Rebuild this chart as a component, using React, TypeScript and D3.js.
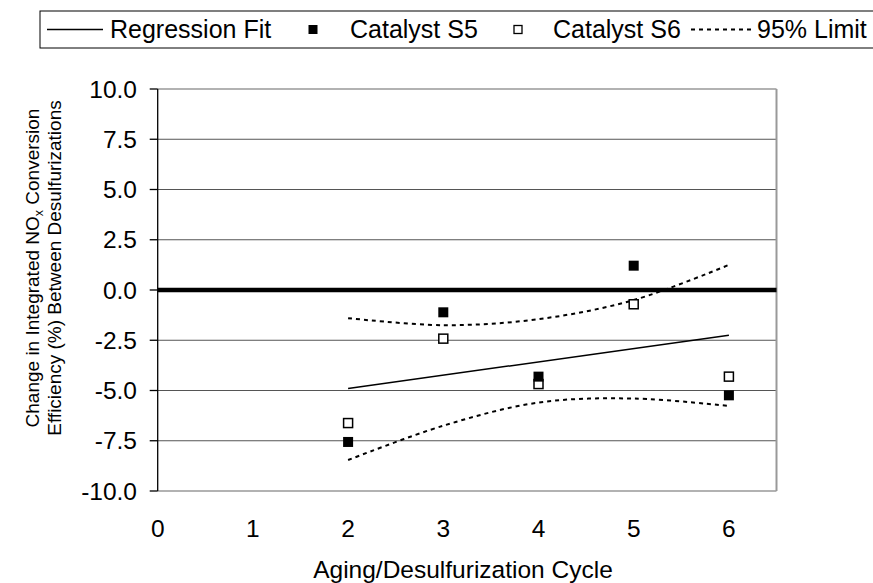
import React from "react";
import * as d3 from "d3";

// Aging/desulfurization cycles measured
const cycles = [2, 3, 4, 5, 6];
// Change in integrated NOx conversion efficiency (%) per catalyst
const catalystS5 = [-7.56, -1.11, -4.31, 1.21, -5.24];
const catalystS6 = [-6.62, -2.42, -4.68, -0.71, -4.31];
// 95% prediction limits around the regression fit
const upperLimit = [-1.4, -1.75, -1.45, -0.5, 1.25];
const lowerLimit = [-8.46, -6.75, -5.6, -5.4, -5.77];

const xTicks = [0, 1, 2, 3, 4, 5, 6];
const yTicks = [-10, -7.5, -5, -2.5, 0, 2.5, 5, 7.5, 10];
const legendLabels = ["Regression Fit", "Catalyst S5", "Catalyst S6", "95% Limit"];

const W = 873;
const H = 583;
const FONT = "'Liberation Sans', Arial, sans-serif";
const FS = 24.5; // tick labels, x title
const LFS = 25; // legend
const YFS = 19; // y title

const plot = { left: 157.7, right: 776.5, top: 89, bottom: 491 };

export default function App() {
  const x = d3.scaleLinear().domain([0, 6.5]).range([plot.left, plot.right]);
  const y = d3.scaleLinear().domain([-10, 10]).range([plot.bottom, plot.top]);

  // least-squares fit through both catalysts
  const pts: [number, number][] = [];
  cycles.forEach((c, i) => {
    pts.push([c, catalystS5[i]]);
    pts.push([c, catalystS6[i]]);
  });
  const mx = d3.mean(pts, (p) => p[0]) as number;
  const my = d3.mean(pts, (p) => p[1]) as number;
  const sxy = d3.sum(pts, (p) => (p[0] - mx) * (p[1] - my));
  const sxx = d3.sum(pts, (p) => (p[0] - mx) ** 2);
  const slope = sxy / sxx;
  const intercept = my - slope * mx;
  const x0 = d3.min(cycles) as number;
  const x1 = d3.max(cycles) as number;

  const lineGen = d3
    .line<[number, number]>()
    .x((d) => x(d[0]))
    .y((d) => y(d[1]));
  const smooth = d3
    .line<[number, number]>()
    .x((d) => x(d[0]))
    .y((d) => y(d[1]))
    .curve(d3.curveCatmullRom.alpha(0.5));

  const upperPath = smooth(cycles.map((c, i) => [c, upperLimit[i]]));
  const lowerPath = smooth(cycles.map((c, i) => [c, lowerLimit[i]]));
  const fitPath = lineGen([
    [x0, intercept + slope * x0],
    [x1, intercept + slope * x1],
  ]);

  const ms = 9;
  const legendBase = 38;
  const legendMid = 29.5;
  const dash = "4,4";

  return (
    <svg
      width={W}
      height={H}
      style={{ position: "absolute", left: 0, top: 0, background: "#fff" }}
      fontFamily={FONT}
    >
      {/* legend */}
      <g fontSize={LFS}>
        <rect x={40} y={11} width={840} height={37} fill="#fff" stroke="#000" strokeWidth={1} />
        <line x1={47} x2={103} y1={legendMid} y2={legendMid} stroke="#000" strokeWidth={1.3} />
        <text x={110} y={legendBase}>{legendLabels[0]}</text>
        <rect x={313 - ms / 2} y={legendMid - ms / 2} width={ms} height={ms} fill="#000" />
        <text x={350} y={legendBase}>{legendLabels[1]}</text>
        <rect x={518 - 4} y={legendMid - 4} width={8} height={8} fill="#fff" stroke="#000" strokeWidth={1.3} />
        <text x={553} y={legendBase}>{legendLabels[2]}</text>
        <line x1={691} x2={751} y1={legendMid} y2={legendMid} stroke="#000" strokeWidth={2} strokeDasharray={dash} />
        <text x={757} y={legendBase}>{legendLabels[3]}</text>
      </g>

      {/* gridlines */}
      {yTicks
        .filter((t) => t !== 0 && t !== -10 && t !== 10)
        .map((t) => (
          <line key={t} x1={plot.left} x2={plot.right} y1={y(t)} y2={y(t)} stroke="#555" strokeWidth={1} />
        ))}
      {/* plot frame */}
      <line x1={plot.left} x2={plot.right} y1={plot.top} y2={plot.top} stroke="#999" strokeWidth={1.5} />
      <line x1={plot.left} x2={plot.right} y1={plot.bottom} y2={plot.bottom} stroke="#999" strokeWidth={1.5} />
      <line x1={plot.right} x2={plot.right} y1={plot.top} y2={plot.bottom} stroke="#999" strokeWidth={2} />
      <line x1={plot.left} x2={plot.left} y1={plot.top} y2={plot.bottom} stroke="#000" strokeWidth={1.3} />
      {/* y ticks & labels */}
      <g fontSize={FS}>
        {yTicks.map((t) => (
          <g key={t}>
            <line x1={plot.left - 8} x2={plot.left} y1={y(t)} y2={y(t)} stroke="#000" strokeWidth={1.3} />
            <text x={137} y={y(t) + 8.5} textAnchor="end">
              {d3.format(".1f")(t).replace("\u2212", "-")}
            </text>
          </g>
        ))}
      </g>
      {/* zero line */}
      <line x1={plot.left} x2={plot.right} y1={y(0)} y2={y(0)} stroke="#000" strokeWidth={4.5} />

      {/* x labels */}
      <g fontSize={FS} textAnchor="middle">
        {xTicks.map((t) => (
          <text key={t} x={x(t)} y={537}>
            {t}
          </text>
        ))}
        <text x={463} y={578}>Aging/Desulfurization Cycle</text>
      </g>

      {/* y title */}
      <g fontSize={YFS} textAnchor="middle">
        <text transform="translate(38.5,268) rotate(-90)">
          Change in Integrated NO
          <tspan fontSize={12.5} dy="4">x</tspan>
          <tspan dy="-4"> Conversion</tspan>
        </text>
        <text transform="translate(61,268) rotate(-90)">Efficiency (%) Between Desulfurizations</text>
      </g>

      {/* limits and fit */}
      <path d={upperPath ?? ""} fill="none" stroke="#000" strokeWidth={2} strokeDasharray={dash} />
      <path d={lowerPath ?? ""} fill="none" stroke="#000" strokeWidth={2} strokeDasharray={dash} />
      <path d={fitPath ?? ""} fill="none" stroke="#000" strokeWidth={1.5} />

      {/* markers */}
      {cycles.map((c, i) => (
        <rect key={"s6" + c} x={x(c) - 4.5} y={y(catalystS6[i]) - 4.5} width={9} height={9} fill="#fff" stroke="#000" strokeWidth={1.5} />
      ))}
      {cycles.map((c, i) => (
        <rect key={"s5" + c} x={x(c) - 5} y={y(catalystS5[i]) - 5} width={10} height={10} fill="#000" />
      ))}
    </svg>
  );
}
